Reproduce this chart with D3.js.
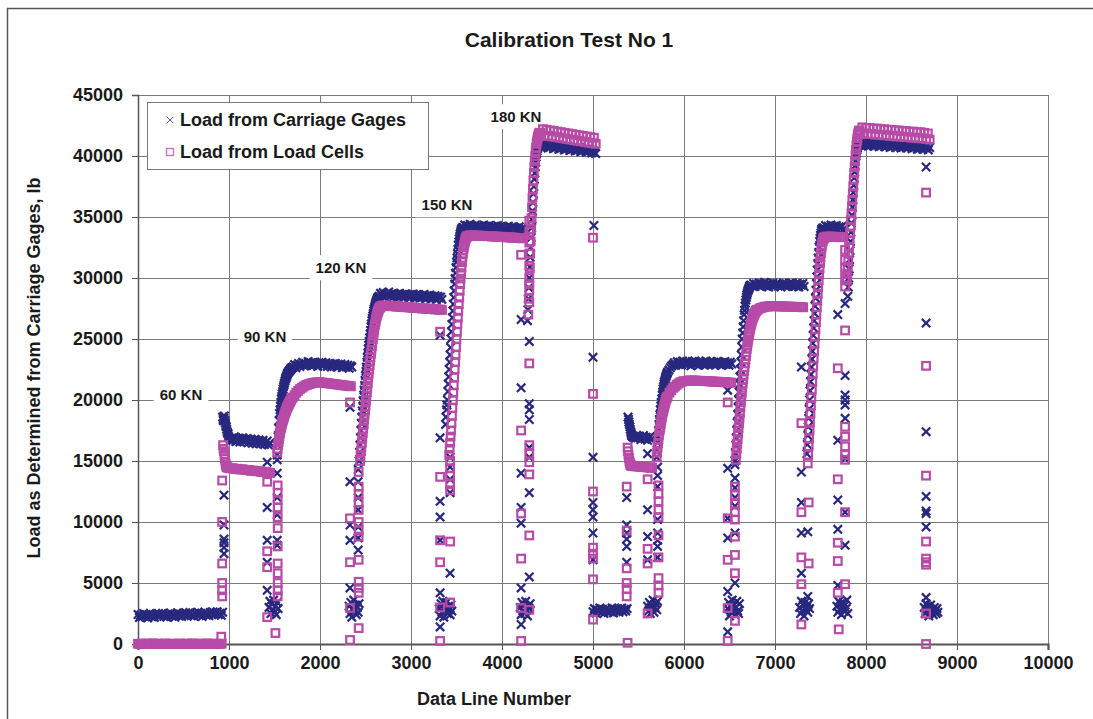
<!DOCTYPE html>
<html><head><meta charset="utf-8">
<script src="https://cdn.jsdelivr.net/npm/d3@7"></script>
<style>
body{margin:0;background:#fff}
svg{display:block}
text{font-family:'Liberation Sans',Arial,sans-serif;font-weight:bold;fill:#1a1a1a}
</style>
</head><body>
<svg id="chart" width="1093" height="719"></svg>
<script>
// ---------------- DATA ----------------
const chartTitle = "Calibration Test No 1";
const xTitle = "Data Line Number";
const yTitle = "Load as Determined from Carriage Gages, lb";
const seriesNames = ["Load from Carriage Gages", "Load from Load Cells"];
const xTicks = [0,1000,2000,3000,4000,5000,6000,7000,8000,9000,10000];
const yTicks = [0,5000,10000,15000,20000,25000,30000,35000,40000,45000];

// load-stage labels: [text, data line, load]
const stageLabels = [["60 KN",473,20400],["90 KN",1396,25160],["120 KN",2231,30820],["150 KN",3396,35980],["180 KN",4154,43200]];

// Carriage gages readings, runs of [first data line, line step, loads]
const gagesRuns = [
 [0,15,[2420,2160,2370,2230,2500,2280,2410,2140,2350,2490,2230,2390,2180,2450,2330,2510,2260,2400,2520,2250,2370,2200,2460,2330,2540,2270,2430,2190,2400,2560,2300,2450,2260,2500,2370,2560,2310,2450,2580,2320,2440,2270,2530,2400,2600,2340,2490,2260,2470,2620,2360,2500,2320,2580,2450,2630,2390,2530,2650,2400,2520,2350,2610]],
 [930,5,[18600,18400,18300,18500,18700,18300,18100,17900,17800,17600,17400,17300,17200,17000]],
 [1000,15,[16920,16650,16850,16700,16980,16600,16780,16880,16560,16750,16900,16550,16700,16850,16500,16680,16800,16450,16650,16780,16420,16600,16730,16400,16560,16700,16350,16520,16650,16300,16480]],
 [1440,10,[3000,3500,2500,3300,2800,3600,2600,3100,2400,3400,2900]],
 [1530,5,[15500,16300,17000,17700,18300,18900,19200,19500,19800,20100,20300,20500,20700,20900,21100,21250,21400,21550,21700,21800,21900,22000,22100,22200,22250,22300,22350,22400,22450,22500,22550,22600,22620,22650,22680]],
 [1705,15,[22700,22900,22650,22850,23000,22750,22950,23100,22800,23000,22850,23150,22900,23050,22800,23100,22950,23000,22750,23050,22900,23100,22800,22950,23050,22750,22900,23000,22700,22950,22850,23000,22700,22900,22800,22950,22650,22850,22900,22700,22850,22600,22800,22700]],
 [2320,10,[3100,2500,3400,2200,2900,3600,2700,3200,2400,3000,2600,3300]],
 [2430,5,[15000,15700,16300,16900,17500,18100,18600,19100,19500,19950,20400,20800,21200,21600,22000,22350,22700,23100,23500,23850,24200,24500,24800,25100,25400,25700,26000,26250,26500,26700,26900,27100,27300,27450,27600,27750,27900,28000,28100,28200,28300,28350,28400,28450]],
 [2650,15,[28500,28750,28550,28800,28450,28700,28600,28850,28500,28700,28400,28750,28550,28650,28450,28750,28500,28650,28400,28700,28550,28600,28350,28650,28500,28700,28400,28600,28450,28650,28350,28550,28450,28650,28300,28550,28400,28600,28300,28500,28400,28550,28250,28500,28350,28450,28250]],
 [3310,10,[2900,2300,3300,2600,3500,2200,3000,2700,3400,2500,3100,2800,2400,3200,2700]],
 [3380,5,[18000,18600,19200,19600,20000,20700,21300,21900,22500,23100,23700,24300,25000,25600,26200,26750,27300,27850,28400,28950,29500,29950,30400,30850,31300,31650,32000,32350,32700,32950,33200,33400,33600,33750,33900,34000,34050,34100,34100]],
 [3575,15,[34150,34350,34050,34300,34200,34400,34100,34250,34000,34350,34150,34300,34050,34250,34150,34350,34000,34250,34100,34300,34050,34200,33950,34250,34100,34300,34000,34200,34100,34250,33950,34150,34050,34250,33900,34150,34050,34200,33950,34100,34000,34200,33900,34100,33950,34050]],
 [4200,10,[3000,2400,3400,2700,3200,2500,3500,2800,2300,3100,2900,3300]],
 [4280,5,[26500,27400,28300,29200,30000,30900,31700,32500,33300,34100,34800,35500,36200,36900,37500,38100,38600,39100,39500,39900,40200,40400,40600,40700,40800,40850,40900]],
 [4415,15,[40800,41050,40700,40950,40850,41000,40650,40900,40750,40950,40600,40850,40700,40900,40550,40800,40650,40850,40500,40750,40600,40800,40450,40700,40550,40750,40400,40650,40500,40700,40350,40600,40450,40600,40300,40550,40400,40500,40250,40450,40300,40200]],
 [5000,15,[2650,2900,2550,2800,2700,2950,2600,2850,2500,2750,2900,2600,2800,2650,2950,2550,2850,2700,2900,2600,2800,2950,2650,2850,2700,2900]],
 [5385,5,[18600,18400,18200,18000,17800,17600,17400,17250,17100,17050,17000,17000,16950]],
 [5450,15,[17000,16850,17100,16900,17050,16750,16950,17100,16800,16950,16700,16900,17000,16800]],
 [5600,10,[3100,2700,3400,2500,3200,2900,3600,2600,3000,3300,2800,3500]],
 [5700,5,[15300,15900,16500,17000,17500,18000,18400,18800,19200,19500,19800,20100,20400,20650,20900,21100,21300,21450,21600,21750,21900,22000,22100,22200,22300]],
 [5835,15,[22450,22650,22800,22900,23050,22850,23150,22950,23100,22850,23200,23000,22900,23150,22950,23100,22800,23150,23000,23200,22900,23050,22850,23150,23000,23100,22850,23200,22950,23050,22900,23150,22950,23100,22850,23150,23000,23100,22850,23050,22950,23150,22900,23050,22850,23100,22950]],
 [6480,10,[2900,3400,2300,3100,2600,3600,2800,3200,2400,3000,3500,2700,2500,3300]],
 [6560,5,[15000,15650,16300,16900,17500,18150,18800,19400,20000,20650,21300,21900,22500,23100,23700,24350,25000,25500,26000,26500,27000,27350,27700,27950,28200,28400,28600,28750,28900,29000,29100,29200,29300,29350,29400,29400]],
 [6750,15,[29350,29550,29300,29500,29400,29600,29300,29500,29450,29650,29350,29550,29250,29500,29400,29600,29300,29450,29550,29350,29500,29250,29450,29600,29350,29500,29300,29550,29400,29600,29300,29450,29350,29550,29250,29500,29400,29550,29300]],
 [7270,10,[3000,2500,3500,2700,3200,2300,3400,2800,3100,2600,3300,2900]],
 [7350,5,[15600,16350,17100,17800,18500,19250,20000,20750,21500,22100,22700,23350,24000,24650,25300,25900,26500,27100,27700,28350,29000,29550,30100,30650,31200,31650,32100,32550,33000,33250,33500,33700,33900,34000,34050,34100]],
 [7540,15,[34100,34300,34000,34250,34150,34350,34050,34250,34100,34300,33950,34200,34100,34250,34000]],
 [7680,10,[3100,2600,3500,2800,3300,2400,3000,3400,2700,3200,2900,3600,2500]],
 [7800,5,[28500,29250,30000,30750,31500,32250,33000,33750,34500,35150,35800,36400,37000,37600,38200,38700,39200,39600,40000,40250,40500,40650,40800,40850,40900]],
 [7935,15,[40900,41150,40850,41100,40950,41200,40800,41050,40900,41150,40800,41050,40900,41100,40750,41000,40850,41100,40750,40950,40850,41050,40700,40950,40800,41000,40700,40950,40800,40900,40650,40900,40750,40950,40650,40850,40750,40900,40600,40850,40700,40850,40550,40800,40650,40850,40550,40750,40650,40800,40500,40700]],
 [8640,10,[3000,2500,3300,2700,3100,2300,2900,3200,2600,2800,2400,3000,2700,2500,2900,2600]]
];
// isolated carriage gage readings during load changes: [data line, load]
const gagesScatter = [
 [945,12200],[945,9750],[945,8600],[945,8300],[945,7900],[945,7400],
 [1420,14900],[1420,11200],[1420,8500],[1420,6700],[1420,4400],
 [1530,15100],[1530,14000],[1530,12000],[1530,10600],[1530,8500],[1530,8100],
 [2330,19400],[2330,13300],[2330,9750],[2330,8500],[2330,4600],
 [2420,14300],[2420,13300],[2420,12000],[2420,11000],[2420,9600],[2420,8700],[2420,7700],
 [3320,25300],[3320,16900],[3320,11700],[3320,10400],[3320,8500],[3320,4200],[3320,1400],
 [3430,15300],[3430,14500],[3430,13500],[3430,12400],[3430,5800],
 [4210,26600],[4210,21000],[4210,14000],[4210,11200],[4210,9900],[4210,4600],[4210,1600],
 [4300,24800],[4300,19700],[4300,19200],[4300,18400],[4300,16100],[4300,15300],[4300,12400],[4300,5500],
 [5010,34300],[5000,23500],[5000,15300],[5000,11600],[5000,11000],[5000,10400],[5000,9100],[5000,6900],
 [5370,12000],[5370,9750],[5370,9100],[5370,8600],[5370,8000],[5370,6700],
 [5600,15600],[5600,11000],[5600,8800],[5600,6900],
 [5710,14500],[5710,13800],[5710,12900],[5710,10200],[5710,9100],[5710,8500],[5710,8000],[5710,7100],
 [6480,20800],[6480,14400],[6480,10300],[6480,8700],[6480,4300],[6480,1000],
 [6560,14700],[6560,13600],[6560,12800],[6560,12000],[6560,11300],[6560,9100],[6560,5000],
 [7290,22700],[7290,14100],[7290,11600],[7290,9100],[7290,5800],[7360,9200],[7360,3900],
 [7770,27900],[7690,27000],[7770,22000],[7770,20400],[7770,20000],[7770,19600],[7770,18500],[7690,16700],
 [7770,15200],[7690,11800],[7770,10800],[7690,9400],[7770,8100],[7690,4800],
 [8660,39100],[8660,26300],[8660,17400],[8660,12100],[8660,10900],[8660,10700],[8660,9600],[8660,3800]
];

// Load cell readings, runs of [first data line, line step, loads]
const cellsRuns = [
 [0,20,[20,0,40,10,0,30,0,20,50,0,10,30,0,20,0,40,10,0,30,0,20,0,10,40,0,20,0,30,10,0,50,0,20,10,0,30,0,20,40,0,10,30,0,20,0,10,30]],
 [935,5,[16300,16000,15800,15500,15200,14950,14700,14600,14500,14480]],
 [990,20,[14450,14400,14420,14380,14350,14370,14320,14300,14320,14280,14250,14270,14220,14200,14220,14180,14150,14170,14120,14100,14120,14080,14050,14030]],
 [1530,5,[15700,16000,16300,16550,16800,17050,17300,17500,17700,17850,18000,18150,18300,18400,18500,18650,18800,18900,19000,19100,19200,19300,19400,19480,19550,19630,19700,19780,19850,19920,20000,20100,20150]],
 [1700,20,[20200,20400,20600,20750,20900,21000,21100,21200,21250,21300,21350,21400,21420,21450,21450,21450,21430,21420,21400,21380,21360,21340,21320,21300,21280,21260,21240,21220,21200,21180,21160,21140,21120]],
 [2440,5,[15000,15400,15800,16150,16500,16900,17300,17650,18000,18400,18800,19150,19500,19900,20300,20650,21000,21400,21800,22150,22500,22850,23200,23500,23800,24100,24400,24700,25000,25250,25500,25750,26000,26200,26400,26600,26800,26950,27100,27200,27300,27400,27500,27550,27600,27650,27680]],
 [2680,20,[27700,27750,27700,27750,27700,27720,27680,27700,27650,27680,27650,27620,27650,27600,27620,27580,27600,27550,27580,27550,27520,27550,27500,27520,27480,27500,27450,27480,27450,27420,27450,27400,27420,27380]],
 [3420,5,[15500,16000,16500,17000,17500,18100,18700,19350,20000,20600,21200,21850,22500,23100,23700,24350,25000,25600,26200,26750,27300,27850,28400,28950,29500,29950,30400,30850,31300,31650,32000,32250,32500,32700,32900,33050,33200,33300,33350,33400,33420]],
 [3630,20,[33450,33500,33480,33500,33480,33460,33480,33450,33460,33430,33450,33420,33440,33400,33420,33380,33400,33370,33380,33350,33360,33330,33340,33310,33320,33300,33300,33280,33280,33260,33250]],
 [4290,5,[27000,28300,29500,30800,32000,33000,34000,34900,35800,36600,37300,38000,38600,39100,39600,40000,40400,40700,41000,41200,41400,41550,41700,41800,41850,41900,41900]],
 [4430,20,[41700,42200,41650,42150,41650,42100,41600,42050,41550,42000,41500,41950,41450,41900,41400,41850,41350,41800,41300,41750,41250,41700,41200,41650,41150,41600,41100,41550,41050,41500,41000]],
 [5380,5,[16100,15800,15500,15250,15000,14850,14700,14650,14620,14600]],
 [5430,20,[14600,14580,14560,14550,14540,14520,14500,14500,14480,14470,14450,14450]],
 [5700,5,[15300,15700,16100,16450,16800,17100,17400,17600,17800,18050,18300,18500,18700,18900,19100,19250,19400,19550,19700,19850,20000,20100,20200,20250]],
 [5820,20,[20300,20600,20800,21000,21100,21250,21350,21450,21500,21550,21550,21580,21600,21600,21580,21600,21580,21570,21580,21550,21560,21540,21550,21520,21530,21500,21510,21490,21500,21470,21480,21450,21460,21440,21430,21420]],
 [6570,5,[15100,15550,16000,16400,16800,17250,17700,18100,18500,18950,19400,19800,20200,20600,21000,21350,21700,22050,22400,22700,23000,23300,23600,23900,24200,24450,24700,24950,25200,25400,25600,25800,26000,26150,26300,26450,26600,26700,26800,26900,27000,27080,27150,27230,27300,27350,27380]],
 [6810,20,[27400,27500,27550,27600,27650,27650,27680,27700,27680,27700,27680,27690,27670,27680,27660,27670,27650,27660,27640,27650,27630,27640,27620,27630,27610,27600]],
 [7360,5,[14800,15500,16200,16850,17500,18200,18900,19550,20200,20850,21500,22150,22800,23400,24000,24600,25200,25800,26400,27000,27600,28150,28700,29250,29800,30300,30800,31250,31700,32050,32400,32650,32900,33050,33200,33250,33300,33320]],
 [7550,20,[33350,33400,33380,33400,33380,33360,33380,33350,33360,33340,33350]],
 [7790,5,[29800,30350,30900,31450,32000,32550,33100,33650,34200,34750,35300,35850,36400,36950,37500,38050,38600,39100,39600,40050,40500,40850,41200,41450,41700,41850,42000,42050,42100]],
 [7940,20,[41850,42350,41850,42300,41800,42300,41800,42250,41750,42250,41750,42200,41700,42200,41700,42150,41650,42150,41650,42100,41600,42100,41600,42050,41550,42050,41550,42000,41500,42000,41500,41950,41450,41950,41450,41900,41400,41850,41350]]
];
// isolated load cell readings during load changes: [data line, load]
const cellsScatter = [
 [925,13400],[925,10000],[925,6600],[925,5000],[925,4400],[925,3900],[915,600],
 [1420,13300],[1420,7600],[1420,6300],[1420,2200],[1510,900],
 [1535,13000],[1535,12400],[1535,11800],[1535,11200],[1535,10400],[1535,9500],[1535,8000],[1535,6600],[1535,5800],[1535,5000],[1535,4400],[1535,3900],
 [2330,19800],[2330,10300],[2330,6700],[2330,2950],[2330,330],
 [2425,14100],[2425,12900],[2425,12300],[2425,11600],[2425,11000],[2425,10000],[2425,9300],[2425,8800],[2425,6900],[2425,5100],[2425,4600],[2425,4200],[2425,1300],
 [3320,25600],[3320,13700],[3320,8500],[3320,6700],[3320,3000],[3320,250],
 [3430,15000],[3430,14400],[3430,13800],[3430,13100],[3430,12600],[3430,8400],[3430,3400],
 [4210,31900],[4210,17500],[4210,10700],[4210,7000],[4210,2950],[4210,250],
 [4300,34700],[4300,33800],[4300,32900],[4300,32000],[4300,31000],[4300,30000],[4300,29000],[4300,28000],
 [4300,23000],[4300,16300],[4300,15600],[4300,14900],[4300,13900],[4300,8900],[4300,2800],
 [5000,33300],[5000,20500],[5000,12500],[5000,7900],[5000,7400],[5000,7000],[5000,5300],[5000,2000],
 [5370,12900],[5370,9300],[5370,6200],[5370,5000],[5370,4500],[5370,3900],[5380,100],
 [5600,13500],[5600,7800],[5600,6600],[5600,2500],
 [5720,13000],[5720,12300],[5720,11700],[5720,11000],[5720,10400],[5720,8900],[5720,7100],[5720,5400],[5720,4800],[5720,4200],
 [6480,19800],[6480,10300],[6480,6900],[6480,2950],[6480,250],
 [6560,12900],[6560,12200],[6560,11500],[6560,10800],[6560,10200],[6560,8800],[6560,7300],[6560,5800],[6560,1900],
 [7290,18100],[7290,10800],[7290,7100],[7290,4900],[7290,1600],[7370,11600],[7370,6600],
 [7770,32300],[7770,31500],[7770,30800],[7770,30000],[7770,29300],[7770,25700],[7690,22600],
 [7770,17800],[7770,17000],[7770,16200],[7770,15500],[7770,15100],[7690,13500],[7770,10800],
 [7690,8300],[7690,6800],[7770,4900],[7690,4200],[7700,1200],
 [8660,37000],[8660,22800],[8660,13800],[8660,8400],[8660,7000],[8660,6700],[8660,6500],[8660,2500],[8660,0]
];

// ---------------- DRAWING ----------------
const navy = "#29287F", magenta = "#B84BA7";
const svg = d3.select("#chart");
const W = 1093, H = 719;
const plot = {left:138, right:1048, top:95, bottom:644};

const x = d3.scaleLinear().domain([0,10000]).range([plot.left, plot.right]);
const y = d3.scaleLinear().domain([0,45000]).range([plot.bottom, plot.top]);

const expand = runs => runs.flatMap(([x0, step, ys]) => ys.map((v, i) => [x0 + i*step, v]));
const gagesPts = expand(gagesRuns).concat(gagesScatter);
const cellsPts = expand(cellsRuns).concat(cellsScatter);

// outer frame
svg.append("rect").attr("width",W).attr("height",H).attr("fill","#fff");
svg.append("path").attr("d",`M7.5,${H}V8.5H${W}`).attr("fill","none").attr("stroke","#555").attr("stroke-width",1.5);

// title
svg.append("text").attr("x",569).attr("y",47).attr("text-anchor","middle")
  .attr("font-size",21).text(chartTitle);

// gridlines
const grid = svg.append("g");
grid.selectAll(".hg").data(yTicks).join("line")
  .attr("x1",plot.left).attr("x2",plot.right)
  .attr("y1",d=>Math.round(y(d))+0.5).attr("y2",d=>Math.round(y(d))+0.5)
  .attr("stroke","#7a7a7a").attr("stroke-width",1);
grid.selectAll(".vg").data(xTicks).join("line")
  .attr("y1",plot.top).attr("y2",plot.bottom)
  .attr("x1",d=>Math.round(x(d))+0.5).attr("x2",d=>Math.round(x(d))+0.5)
  .attr("stroke","#7a7a7a").attr("stroke-width",1);

// axes
const xAxis = d3.axisBottom(x).tickValues(xTicks).tickSize(6).tickPadding(6).tickFormat(d3.format("d"));
const yAxis = d3.axisLeft(y).tickValues(yTicks).tickSize(6).tickPadding(9).tickFormat(d3.format("d"));
const gx = svg.append("g").attr("transform",`translate(0,${plot.bottom})`).call(xAxis);
const gy = svg.append("g").attr("transform",`translate(${plot.left},0)`).call(yAxis);
[gx,gy].forEach(g=>{
  g.select(".domain").attr("stroke","#555").attr("stroke-width",1.5);
  g.selectAll(".tick line").attr("stroke","#555");
  g.selectAll(".tick text").attr("font-size",18).attr("font-family","'Liberation Sans',Arial,sans-serif").attr("font-weight","bold").attr("fill","#1a1a1a");
});
gx.select(".domain").attr("stroke-width",2.2);

// axis titles
svg.append("text").attr("x",494).attr("y",705).attr("text-anchor","middle").attr("font-size",18).text(xTitle);
svg.append("text").attr("transform","translate(40,368) rotate(-90)").attr("text-anchor","middle").attr("font-size",18).text(yTitle);

// stage labels with white boxes
const lab = svg.append("g");
stageLabels.forEach(([t,dx,dy])=>{
  const g = lab.append("g");
  const tx = g.append("text").attr("x",x(dx)).attr("y",y(dy)).attr("dy","0.35em")
     .attr("text-anchor","middle").attr("font-size",15).text(t);
  const bb = tx.node().getBBox();
  g.insert("rect","text").attr("x",bb.x-6).attr("y",bb.y-4).attr("width",bb.width+12).attr("height",bb.height+8).attr("fill","#fff");
});

// series
const xPath = "M-4.2,-4.2L4.2,4.2M-4.2,4.2L4.2,-4.2";
svg.append("g").selectAll("path").data(gagesPts).join("path")
  .attr("d",xPath).attr("transform",d=>`translate(${x(d[0]).toFixed(1)},${y(d[1]).toFixed(1)})`)
  .attr("fill","none").attr("stroke",navy).attr("stroke-width",2.2);
svg.append("g").selectAll("rect").data(cellsPts).join("rect")
  .attr("x",d=>x(d[0])-3.8).attr("y",d=>y(d[1])-3.8).attr("width",7.6).attr("height",7.6)
  .attr("fill","none").attr("stroke",magenta).attr("stroke-width",2.2);

// legend
const lg = svg.append("g");
lg.append("rect").attr("x",147.5).attr("y",102.5).attr("width",281).attr("height",67)
  .attr("fill","#fff").attr("stroke","#777").attr("stroke-width",1);
lg.append("path").attr("d",xPath).attr("transform","translate(170,120) scale(0.8)").attr("fill","none").attr("stroke","#5a58a8").attr("stroke-width",1.2);
lg.append("rect").attr("x",166.5).attr("y",148.5).attr("width",7).attr("height",7).attr("fill","none").attr("stroke","#cc6fbf").attr("stroke-width",1.3);
lg.append("text").attr("x",180).attr("y",126).attr("font-size",18).text(seriesNames[0]);
lg.append("text").attr("x",180).attr("y",158).attr("font-size",18).text(seriesNames[1]);
</script>
</body></html>
